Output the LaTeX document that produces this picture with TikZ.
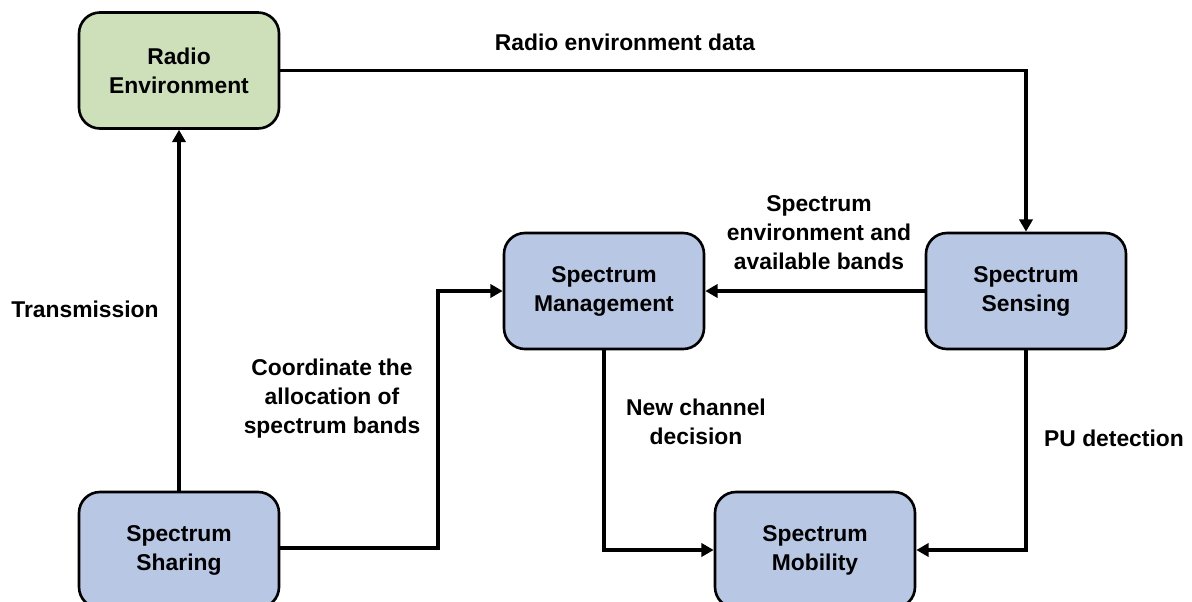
\documentclass[tikz,border=0pt]{standalone}
\usepackage{fontspec}
\setmainfont{Liberation Sans}
\usetikzlibrary{arrows.meta}
\definecolor{envgreen}{RGB}{205,224,186}
\definecolor{blockblue}{RGB}{184,200,228}

\begin{document}
\begin{tikzpicture}
\tikzstyle{block}=[draw=black,line width=1.5pt,rounded corners=0.42cm,fill=blockblue,minimum width=4cm,minimum height=2.32cm,align=center,font=\fontsize{13}{16.5}\selectfont\bfseries]
\tikzstyle{lbl}=[align=center,font=\fontsize{13}{16.5}\selectfont\bfseries]
\tikzstyle{link}=[line width=2pt,-{Triangle[length=7pt,width=7.5pt]}]
\useasboundingbox (0,0) rectangle (23.84,-12.04);
\node[block,fill=envgreen] (env) at (3.58,-1.41) {Radio\\Environment};
\node[block] (sense) at (20.52,-5.82) {Spectrum\\Sensing};
\node[block] (mgmt) at (12.08,-5.82) {Spectrum\\Management};
\node[block] (mob) at (16.3,-11.0) {Spectrum\\Mobility};
\node[block] (share) at (3.58,-11.0) {Spectrum\\Sharing};
\coordinate (bend) at (8.76,-10.96);
\draw[link] (env.east) -| (sense.north);
\draw[link] (sense.west) -- (mgmt.west -| mgmt.east);
\draw[link] (share.north) -- (env.south);
\draw[link] (share.east |- bend) -- (bend) |- (mgmt.west);
\draw[link] (mgmt.south) |- (mob.west);
\draw[link] (sense.south) |- (mob.east);
\node[lbl] (l1) at (12.5,-0.84) {Radio environment data};
\node[lbl] (l2) at (16.38,-4.66) {Spectrum\\environment and\\available bands};
\node[lbl] (l3) at (1.7,-6.18) {Transmission};
\node[lbl] (l4) at (6.64,-7.98) {Coordinate the\\allocation of\\spectrum bands};
\node[lbl] (l5) at (13.92,-8.44) {New channel\\decision};
\node[lbl] (l6) at (22.28,-8.76) {PU detection};
\end{tikzpicture}
\end{document}
